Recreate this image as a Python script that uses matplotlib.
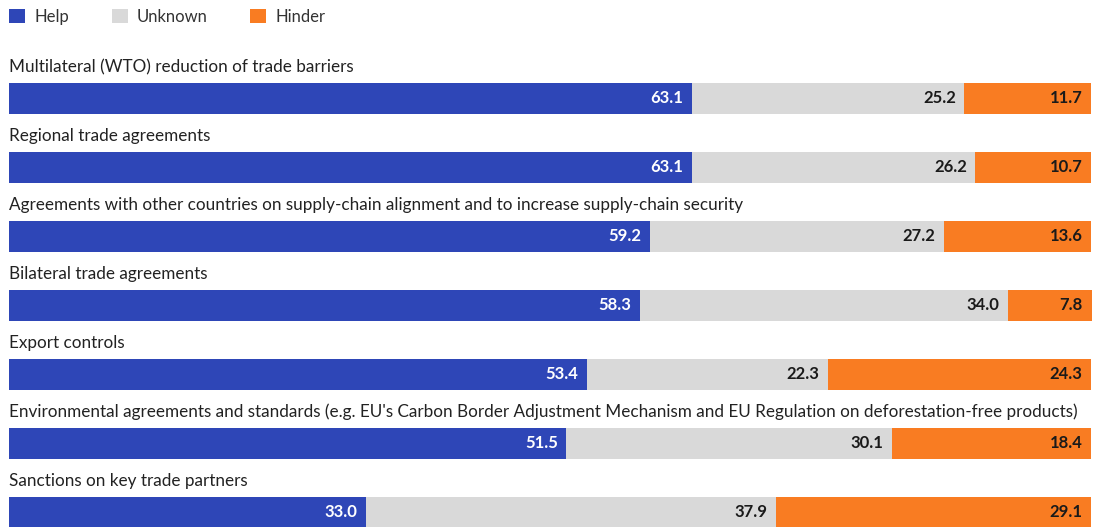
import matplotlib
matplotlib.use("Agg")
import matplotlib.pyplot as plt
from matplotlib.patches import Patch

categories = [
    "Multilateral (WTO) reduction of trade barriers",
    "Regional trade agreements",
    "Agreements with other countries on supply-chain alignment and to increase supply-chain security",
    "Bilateral trade agreements",
    "Export controls",
    "Environmental agreements and standards (e.g. EU's Carbon Border Adjustment Mechanism and EU Regulation on deforestation-free products)",
    "Sanctions on key trade partners",
]
help_vals = [63.1, 63.1, 59.2, 58.3, 53.4, 51.5, 33.0]
unknown_vals = [25.2, 26.2, 27.2, 34.0, 22.3, 30.1, 37.9]
hinder_vals = [11.7, 10.7, 13.6, 7.8, 24.3, 18.4, 29.1]
series_names = ["Help", "Unknown", "Hinder"]
colors = ["#2E46B7", "#D9D9D9", "#F97C22"]
label_colors = ["white", "#1a1a1a", "#1a1a1a"]

plt.rcParams['font.family'] = ['Lato', 'DejaVu Sans']

W, H = 1104, 527
fig = plt.figure(figsize=(W / 100, H / 100), dpi=100)
x0, x1 = 9, 1091
ax = fig.add_axes([x0 / W, 0, (x1 - x0) / W, 1])
row = 69.0
first = 98.0
ax.set_xlim(0, 100)
ax.set_ylim((H - first) / row, -first / row)
ax.axis('off')

bar_h = 31 / row
series = [help_vals, unknown_vals, hinder_vals]
n = len(categories)
lefts = [0.0] * n
for s, vals in enumerate(series):
    ys = list(range(n))
    ax.barh(ys, vals, left=lefts, height=bar_h, color=colors[s], linewidth=0, clip_on=False)
    for i, v in enumerate(vals):
        end = min(lefts[i] + v, 100.0)
        ax.annotate(f"{v:.1f}", xy=(end, i), xytext=(-6, 0), textcoords='offset points',
                    ha='right', va='center', fontsize=12, fontweight='bold',
                    color=label_colors[s], annotation_clip=False)
    lefts = [lefts[i] + vals[i] for i in range(n)]

for i, c in enumerate(categories):
    ax.annotate(c, xy=(0, i - bar_h / 2), xytext=(0, 7.5), textcoords='offset points',
                ha='left', va='baseline', fontsize=12.3, color='#222222',
                annotation_clip=False)

handles = [Patch(facecolor=colors[k], edgecolor='none') for k in range(3)]
fig.legend(handles, series_names, loc='upper left', bbox_to_anchor=(-0.002, 1.006),
           ncol=3, frameon=False, fontsize=12, handlelength=0.95, handleheight=0.95,
           handletextpad=0.55, columnspacing=2.55, borderaxespad=0.3,
           labelcolor='#333333')

fig.savefig("out.png", dpi=100)
